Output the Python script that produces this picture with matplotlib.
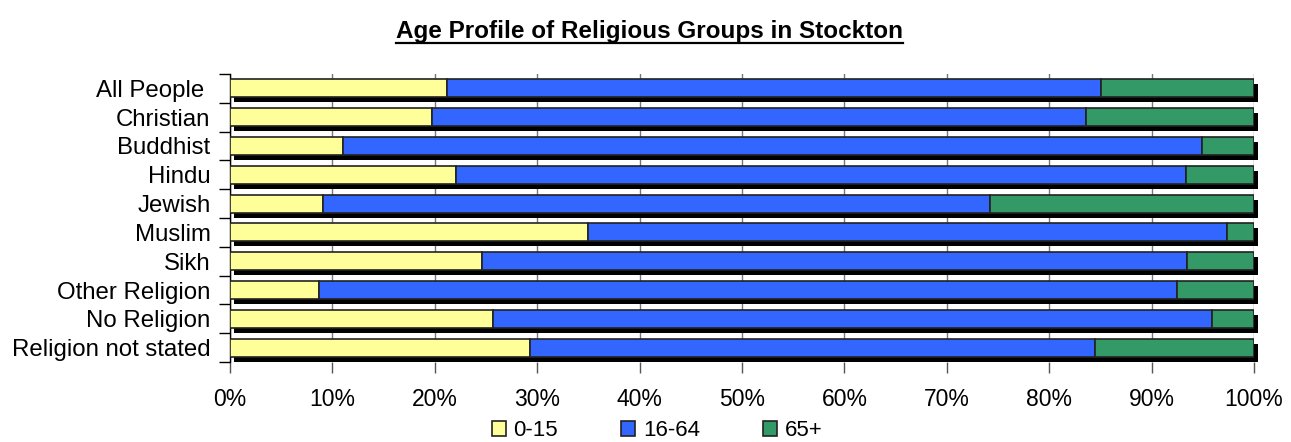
import matplotlib
matplotlib.use("Agg")
import matplotlib.pyplot as plt
from matplotlib.transforms import offset_copy
from matplotlib.lines import Line2D
import numpy as np

plt.rcParams['font.family'] = ['Liberation Sans', 'DejaVu Sans']

# data (percent of each group)
groups = ["All People ", "Christian", "Buddhist", "Hindu", "Jewish", "Muslim",
          "Sikh", "Other Religion", "No Religion", "Religion not stated"]
age_0_15 = [21.2, 19.7, 11.0, 22.1, 9.1, 35.0, 24.6, 8.7, 25.7, 29.3]
age_16_64 = [63.9, 63.9, 83.9, 71.3, 65.1, 62.4, 68.9, 83.8, 70.2, 55.2]
age_65p = [14.9, 16.4, 5.1, 6.6, 25.8, 2.6, 6.5, 7.5, 4.1, 15.5]
legend_labels = ["0-15", "16-64", "65+"]
colors = ["#FFFF99", "#3366FF", "#339966"]

fig = plt.figure(figsize=(12.91, 4.42), dpi=100)
ax = fig.add_axes([230/1291, 1-362/442, 1024/1291, 288/442])

y = np.arange(len(groups))
h = 0.62
a = np.array(age_0_15)
b = np.array(age_16_64)
c = np.array(age_65p)

# black drop shadow behind each whole bar
shadow_tr = offset_copy(ax.transData, fig=fig, x=3.5, y=-5, units='dots')
ax.barh(y, a + b + c, height=h, color='black', transform=shadow_tr, zorder=2, clip_on=False)

ax.barh(y, a, height=h, color=colors[0], edgecolor='#222222', lw=1.2, label=legend_labels[0], zorder=3)
ax.barh(y, b, left=a, height=h, color=colors[1], edgecolor='#222222', lw=1.2, label=legend_labels[1], zorder=3)
ax.barh(y, c, left=a + b, height=h, color=colors[2], edgecolor='#222222', lw=1.2, label=legend_labels[2], zorder=3)

ax.set_xlim(0, 100)
ax.set_ylim(len(groups) - 0.5, -0.5)
ax.set_xticks(np.arange(0, 101, 10))
ax.set_xticklabels([f"{v}%" for v in range(0, 101, 10)])
ax.set_yticks(y)
ax.set_yticklabels(groups)
ax.set_yticks(np.arange(-0.5, len(groups), 1), minor=True)
ax.tick_params(axis='y', which='major', length=0, pad=14, labelsize=17.3)
ax.tick_params(axis='y', which='minor', length=8, width=1, color='black')
ax.tick_params(axis='x', length=8, width=1, color='#555555', pad=11, labelsize=16.5)
ax.xaxis.grid(True, color='#777777', lw=1, zorder=0)
ax.set_axisbelow(True)
for s in ['top', 'right', 'bottom']:
    ax.spines[s].set_visible(False)
ax.spines['left'].set_color('black')
ax.spines['left'].set_linewidth(1)

fig.legend(loc='center', bbox_to_anchor=(0.509, 1 - 431/442), ncol=3, frameon=False,
           fontsize=16, handlelength=0.62, handleheight=0.62, handletextpad=0.35,
           columnspacing=2.85, borderpad=0)

title = fig.text(0.503, 1 - 38/442, "Age Profile of Religious Groups in Stockton",
                 ha='center', va='baseline', fontsize=17.5, fontweight='bold')
fig.canvas.draw()
bb = title.get_window_extent()
yline = 1 - 42.5/442
fig.add_artist(Line2D([bb.x0/fig.bbox.width, bb.x1/fig.bbox.width], [yline, yline],
                      transform=fig.transFigure, color='black', lw=1.6))

fig.savefig("out.png", dpi=100)
